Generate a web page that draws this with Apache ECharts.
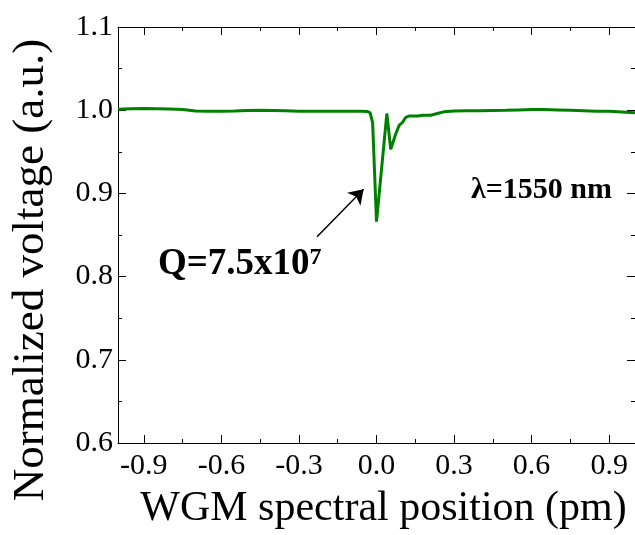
<!DOCTYPE html>
<html>
<head>
<meta charset="utf-8">
<script src="https://cdn.jsdelivr.net/npm/echarts@6/dist/echarts.min.js"></script>
<style>html,body{margin:0;padding:0;background:#fff;}#c{width:635px;height:535px;}</style>
</head>
<body>
<div id="c"></div>
<script>
// ---- data ----
const posX = [-1.00,-0.95,-0.90,-0.85,-0.80,-0.75,-0.70,-0.65,-0.60,-0.55,-0.50,-0.45,-0.40,-0.35,-0.30,-0.25,-0.20,-0.15,-0.10,-0.06,-0.035,-0.025,-0.015,0.000,0.040,0.055,0.075,0.088,0.100,0.112,0.125,0.160,0.180,0.210,0.235,0.260,0.300,0.350,0.400,0.450,0.500,0.550,0.600,0.650,0.700,0.750,0.800,0.850,0.900,0.950,1.000];
const voltage = [1.0012,1.0018,1.002,1.0018,1.0015,1.0008,0.999,0.9988,0.9986,0.999,0.9996,0.9998,0.9996,0.9992,0.9988,0.9986,0.9986,0.9988,0.9988,0.9988,0.9983,0.997,0.985,0.866,0.996,0.953,0.972,0.982,0.985,0.991,0.993,0.993,0.994,0.994,0.996,0.998,0.999,0.9992,0.9992,0.9996,0.9998,1.0003,1.0008,1.0008,1.0003,0.9998,0.9993,0.9988,0.9986,0.9978,0.997];
const xMajorTicks = [-0.9,-0.6,-0.3,0.0,0.3,0.6,0.9];
const xMinorTicks = [-0.75,-0.45,-0.15,0.15,0.45,0.75];
const arrowFrom = [-0.23, 0.848];
const arrowTo = [-0.05, 0.905];

const seriesData = posX.map((x, i) => [x, voltage[i]]);
const FONT = '"Liberation Serif","Times New Roman",serif';
const black = '#000';

function xAx(pos, ticks, len, showLine, showLabel, extra) {
  return Object.assign({
    type: 'value', min: -1, max: 1, position: pos, gridIndex: 0,
    axisLine: { show: showLine, onZero: false, lineStyle: { color: black, width: 1 } },
    axisTick: { show: true, inside: true, length: len, customValues: ticks, lineStyle: { color: black, width: 1 } },
    axisLabel: showLabel ? { show: true, customValues: ticks, formatter: v => v.toFixed(1), color: black, fontFamily: FONT, fontSize: 30, margin: 8 } : { show: false },
    splitLine: { show: false }
  }, extra || {});
}
function yAx(pos, showLabel) {
  return {
    type: 'value', min: 0.6, max: 1.1, interval: 0.1, position: pos,
    axisLine: { show: true, onZero: false, lineStyle: { color: black, width: 1 } },
    axisTick: { show: true, inside: true, length: 8, lineStyle: { color: black, width: 1 } },
    minorTick: { show: true, splitNumber: 2, length: 4, lineStyle: { color: black, width: 1 } },
    axisLabel: showLabel ? { show: true, formatter: v => v.toFixed(1), color: black, fontFamily: FONT, fontSize: 30, margin: 5 } : { show: false },
    splitLine: { show: false }
  };
}

const chart = echarts.init(document.getElementById('c'), null, { renderer: 'canvas' });
chart.setOption({
  animation: false,
  backgroundColor: '#fff',
  grid: { left: 118, right: 0, top: 27, bottom: 92, containLabel: false },
  xAxis: [
    xAx('bottom', xMajorTicks, 8, true, true, {
      name: 'WGM spectral position (pm)', nameLocation: 'middle', nameGap: 45,
      nameTextStyle: { color: black, fontFamily: FONT, fontSize: 42, padding: [0, 0, 0, 14] }
    }),
    xAx('bottom', xMinorTicks, 4, false, false),
    xAx('top', xMajorTicks, 8, true, false),
    xAx('top', xMinorTicks, 4, false, false)
  ],
  yAxis: [
    yAx('left', true),
    yAx('right', false)
  ],
  series: [{
    type: 'line', xAxisIndex: 0, yAxisIndex: 0,
    data: seriesData, showSymbol: false, smooth: false,
    lineStyle: { color: '#008000', width: 3 },
    itemStyle: { color: '#008000' },
    markLine: {
      silent: true, symbol: ['none', 'arrow'], symbolSize: 14,
      lineStyle: { color: black, width: 1.5, type: 'solid' },
      label: { show: false },
      emphasis: { disabled: true },
      data: [[{ coord: arrowFrom }, { coord: arrowTo }]]
    }
  }],
  graphic: [
    { type: 'text', x: 31, y: 270, rotation: Math.PI / 2, style: {
      text: 'Normalized voltage (a.u.)', fill: black, font: '45px ' + FONT,
      textAlign: 'center', textVerticalAlign: 'middle' } },
    { type: 'text', left: 471, top: 175, style: { text: 'λ=1550 nm', fill: black, font: 'bold 30px ' + FONT } },
    { type: 'text', left: 158, top: 246, style: {
      text: '{a|Q=7.5x10}{b|7}', fill: black,
      rich: {
        a: { fontFamily: FONT, fontWeight: 'bold', fontSize: 37, fill: black },
        b: { fontFamily: FONT, fontWeight: 'bold', fontSize: 24, fill: black, verticalAlign: 'top' }
      }
    } }
  ]
});
</script>
</body>
</html>
